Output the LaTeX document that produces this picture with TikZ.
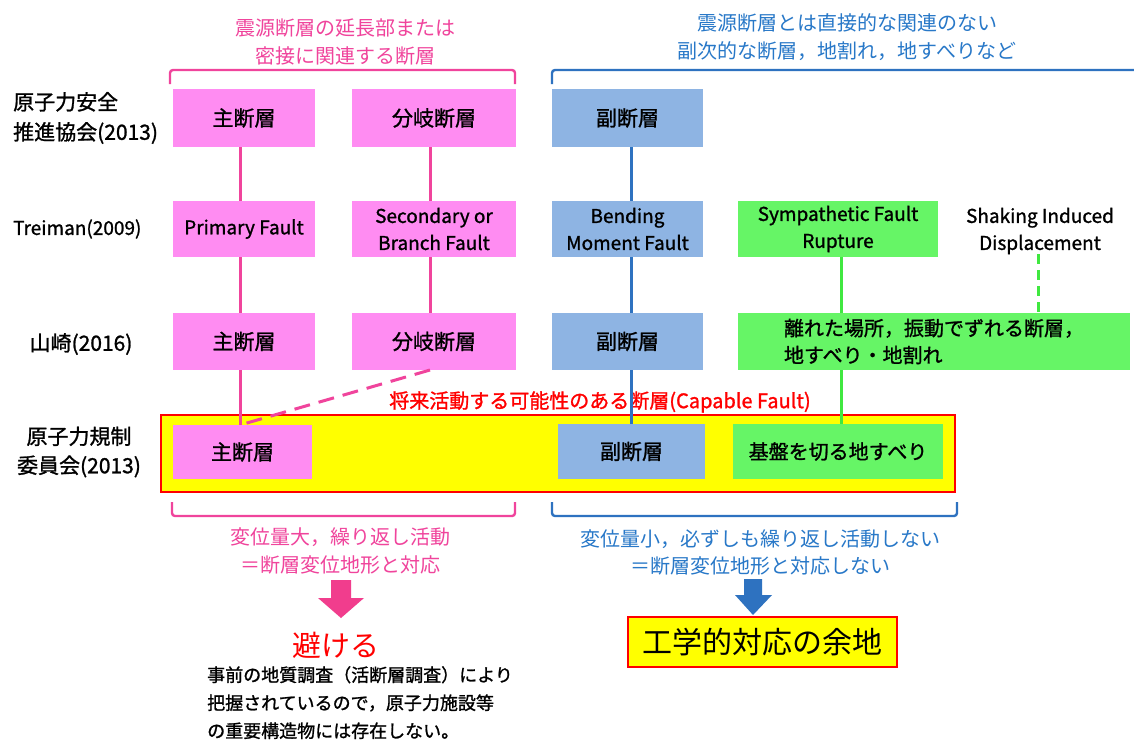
\documentclass[tikz,border=0pt]{standalone}
\usepackage{fontspec}
\setmainfont{Noto Sans CJK JP}[FakeBold=1.2]
\newfontfamily\plainjp{Noto Sans CJK JP}
\definecolor{pinkfill}{HTML}{FF8CF2}
\definecolor{bluefill}{HTML}{8EB4E3}
\definecolor{greenfill}{HTML}{66F566}
\definecolor{pinkline}{HTML}{F0449C}
\definecolor{blueline}{HTML}{2E72C0}
\definecolor{bluetext}{HTML}{2878C8}
\definecolor{greenline}{HTML}{40E840}
\definecolor{redc}{HTML}{FF0000}
\definecolor{yellowc}{HTML}{FFFF00}
\newcommand{\fs}[2]{\fontsize{#1}{#2}\selectfont}
\tikzset{
  fbox/.style={inner sep=0pt, outer sep=0pt, align=center, text=black},
  pbox/.style={fbox, fill=pinkfill},
  bbox/.style={fbox, fill=bluefill},
  gbox/.style={fbox, fill=greenfill},
  jp/.style={font=\fs{21}{28}},
  en/.style={font=\fs{19}{27}},
  lbl/.style={inner sep=0pt, align=center, text=black},
  pcon/.style={draw=pinkline, line width=3pt},
  bcon/.style={draw=blueline, line width=3pt},
  gcon/.style={draw=greenline, line width=3pt},
  brk/.style={line width=2.4pt, rounded corners=3pt},
}
\begin{document}
\begin{tikzpicture}[x=1pt,y=-1pt]
\useasboundingbox[fill=white] (0,0) rectangle (1134,745);
% column coordinates
\coordinate (cP) at (240,0);
\coordinate (cB) at (430,0);
\coordinate (cU) at (631,0);
\coordinate (cG) at (841,0);
\coordinate (cS) at (1038,0);

% header texts
\node[lbl, text=pinkline, font=\plainjp\fs{20}{28}] (topP) at (345,42) {震源断層の延長部または\\密接に関連する断層};
\node[lbl, text=bluetext, font=\plainjp\fs{20}{28}] (topB) at (847,37) {震源断層とは直接的な関連のない\\副次的な断層，地割れ，地すべりなど};

% brackets
\draw[brk, pinkline] (170,84) -- (170,70) -- (515,70) -- (515,84);
\draw[brk, blueline] (552,84) -- (552,70) -- (1140,70);

% row labels
\node[lbl, align=left, anchor=west, font=\fs{21}{30}] (l1) at (13,118) {原子力安全\\推進協会(2013)};
\node[lbl, anchor=west, font=\fs{19}{27}] (l2) at (13,229) {Treiman(2009)};
\node[lbl, font=\fs{21}{30}] (l3) at (81,344) {山崎(2016)};
\node[lbl, font=\fs{21}{29}] (l4) at (79,452) {原子力規制\\委員会(2013)};

% yellow frame
\node[fill=yellowc, draw=redc, line width=2pt, minimum width=794pt, minimum height=77pt, inner sep=0pt] (Y) at (558,453.5) {};

% row 1
\node[pbox, jp, minimum width=142pt, minimum height=58pt] (p11) at (244,118) {主断層};
\node[pbox, jp, minimum width=164pt, minimum height=58pt] (p12) at (434,118) {分岐断層};
\node[bbox, jp, minimum width=151pt, minimum height=58pt] (b13) at (627.5,118) {副断層};
% row 2
\node[pbox, en, minimum width=142pt, minimum height=56pt] (p21) at (244,229) {Primary Fault};
\node[pbox, en, minimum width=164pt, minimum height=56pt] (p22) at (434,229) {Secondary or\\Branch Fault};
\node[bbox, en, minimum width=151pt, minimum height=56pt] (b23) at (627.5,229) {Bending\\Moment Fault};
\node[gbox, en, minimum width=200pt, minimum height=56pt] (g24) at (838,229) {Sympathetic Fault\\Rupture};
\node[lbl, en, inner sep=0pt] (shake) at (1040,231) {Shaking Induced\\Displacement};
% row 3
\node[pbox, jp, minimum width=142pt, minimum height=57pt] (p31) at (244,341.5) {主断層};
\node[pbox, jp, minimum width=164pt, minimum height=57pt] (p32) at (434,341.5) {分岐断層};
\node[bbox, jp, minimum width=151pt, minimum height=57pt] (b33) at (627.5,341.5) {副断層};
\node[gbox, font=\fs{20}{27}, align=left, minimum width=392pt, minimum height=57pt] (g34) at (934,341.5) {離れた場所，振動でずれる断層，\\地すべり・地割れ};
% capable label
\node[lbl, text=redc, font=\fs{20}{24}] (cap) at (600,402) {将来活動する可能性のある断層(Capable Fault)};
% row 4
\node[pbox, jp, minimum width=139pt, minimum height=54pt] (p41) at (242.5,452) {主断層};
\node[bbox, jp, minimum width=147pt, minimum height=55pt] (b43) at (631.5,451.5) {副断層};
\node[gbox, font=\fs{20}{27}, minimum width=210pt, minimum height=55pt] (g44) at (838,451.5) {基盤を切る地すべり};

% connectors
\draw[pcon] (p11.south -| cP) -- (p21.north -| cP);
\draw[pcon] (p21.south -| cP) -- (p31.north -| cP);
\draw[pcon] (p31.south -| cP) -- (p41.north -| cP);
\draw[pcon] (p12.south -| cB) -- (p22.north -| cB);
\draw[pcon] (p22.south -| cB) -- (p32.north -| cB);
\draw[pcon, dash pattern=on 16pt off 9pt] (p32.south -| cB) -- (p41.north -| cP);
\draw[bcon] (b13.south -| cU) -- (b23.north -| cU);
\draw[bcon] (b23.south -| cU) -- (b33.north -| cU);
\draw[bcon] (b33.south -| cU) -- (b43.north -| cU);
\draw[gcon] (g24.south -| cG) -- (g34.north -| cG);
\draw[gcon] (g34.south -| cG) -- (g44.north -| cG);
\draw[gcon, dash pattern=on 10pt off 6pt] (shake.south -| cS) -- (g34.north -| cS);

% bottom brackets
\draw[brk, pinkline] (172,502) -- (172,516) -- (515,516) -- (515,502);
\draw[brk, blueline] (552,502) -- (552,516) -- (957,516) -- (957,502);

% bottom texts
\node[lbl, text=pinkline, font=\plainjp\fs{20}{28}] (btP) at (340,551) {変位量大，繰り返し活動\\＝断層変位地形と対応};
\node[lbl, text=bluetext, font=\plainjp\fs{20}{27}] (btB) at (760,552) {変位量小，必ずしも繰り返し活動しない\\＝断層変位地形と対応しない};

% block arrows
\fill[pinkline!90!red] (331,580) -- (351,580) -- (351,598) -- (364,598) -- (341,618) -- (318,598) -- (331,598) -- cycle;
\fill[blueline] (744,579) -- (762,579) -- (762,595) -- (772,595) -- (753,615) -- (735,595) -- (744,595) -- cycle;

\node[lbl, text=redc, font=\plainjp\fs{29}{32}] (avoid) at (336,645) {避ける};
\node[lbl, anchor=north west, align=left, font=\fs{18}{28}] (note) at (207,666) {事前の地質調査（活断層調査）により\\把握されているので，原子力施設等\\の重要構造物には存在しない。};

\node[fill=yellowc, draw=redc, line width=2pt, minimum width=269pt, minimum height=50pt, inner sep=0pt, font=\plainjp\fs{30}{34}] (R) at (762.5,642) {工学的対応の余地};
\end{tikzpicture}
\end{document}
